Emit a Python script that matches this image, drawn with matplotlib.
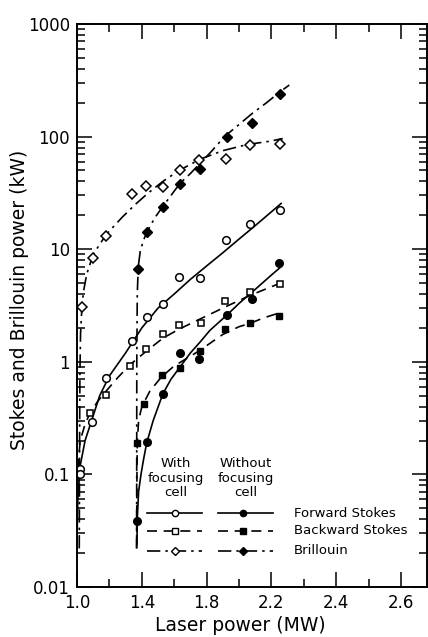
import matplotlib
matplotlib.use("Agg")
import matplotlib.pyplot as plt
from matplotlib.ticker import LogLocator, NullFormatter, FixedLocator

plt.rcParams['font.family'] = ['DejaVu Sans']

# ---- measured points (Laser power MW, power kW) ----
fs_cell_x = [1.019, 1.02, 1.09, 1.18, 1.34, 1.43, 1.53, 1.63, 1.76, 1.92, 2.07, 2.25]
fs_cell_y = [0.112, 0.10, 0.29, 0.72, 1.53, 2.5, 3.26, 5.66, 5.5, 12.1, 16.7, 22.3]

bs_cell_x = [1.08, 1.18, 1.327, 1.426, 1.53, 1.63, 1.765, 1.914, 2.07, 2.25]
bs_cell_y = [0.35, 0.51, 0.92, 1.3, 1.77, 2.12, 2.2, 3.47, 4.17, 4.9]

br_cell_x = [1.03, 1.099, 1.18, 1.34, 1.425, 1.53, 1.636, 1.755, 1.92, 2.07, 2.25]
br_cell_y = [3.07, 8.4, 13.1, 30.9, 36.4, 36.0, 50.5, 62.0, 63.0, 84.0, 86.0]

fs_nocell_x = [1.373, 1.43, 1.53, 1.636, 1.755, 1.925, 2.08, 2.247]
fs_nocell_y = [0.0386, 0.194, 0.52, 1.2, 1.06, 2.6, 3.6, 7.5]

bs_nocell_x = [1.373, 1.414, 1.525, 1.636, 1.76, 1.914, 2.07, 2.247]
bs_nocell_y = [0.19, 0.42, 0.76, 0.88, 1.25, 1.95, 2.2, 2.55]

br_nocell_x = [1.375, 1.435, 1.53, 1.636, 1.76, 1.925, 2.08, 2.25]
br_nocell_y = [6.7, 14.2, 23.7, 37.9, 51.5, 99.0, 132.0, 239.0]

# ---- fitted curves ----
fs_cell_cx = [1.0, 1.005, 1.02, 1.05, 1.09, 1.14, 1.2, 1.3, 1.4, 1.5, 1.6, 1.7, 1.8, 1.9, 2.0, 2.1, 2.2, 2.26]
fs_cell_cy = [0.025, 0.06, 0.12, 0.2, 0.3, 0.5, 0.75, 1.2, 2.0, 3.0, 4.0, 5.4, 7.1, 9.3, 12.3, 16.2, 21.5, 25.5]

bs_cell_cx = [1.003, 1.008, 1.02, 1.05, 1.08, 1.13, 1.18, 1.25, 1.33, 1.43, 1.53, 1.63, 1.76, 1.9, 2.07, 2.27]
bs_cell_cy = [0.08, 0.13, 0.2, 0.28, 0.35, 0.45, 0.55, 0.72, 0.95, 1.25, 1.62, 1.95, 2.4, 3.0, 3.9, 5.1]

br_cell_cx = [1.014, 1.016, 1.018, 1.022, 1.03, 1.04, 1.06, 1.1, 1.18, 1.28, 1.36, 1.44, 1.53, 1.63, 1.76, 1.9, 2.05, 2.19, 2.27]
br_cell_cy = [0.022, 0.2, 0.8, 1.8, 3.0, 4.2, 6.0, 9.0, 13.5, 19.3, 25.0, 31.6, 40.0, 50.0, 63.0, 75.0, 85.0, 91.0, 96.0]

fs_nocell_cx = [1.37, 1.372, 1.38, 1.395, 1.41, 1.43, 1.47, 1.53, 1.58, 1.636, 1.7, 1.76, 1.82, 1.925, 2.0, 2.1, 2.2, 2.255]
fs_nocell_cy = [0.024, 0.04, 0.07, 0.1, 0.134, 0.19, 0.3, 0.52, 0.7, 0.9, 1.2, 1.5, 1.9, 2.6, 3.3, 4.4, 5.9, 6.9]

bs_nocell_cx = [1.368, 1.37, 1.372, 1.38, 1.4, 1.45, 1.52, 1.6, 1.7, 1.76, 1.9, 2.0, 2.07, 2.15, 2.26]
bs_nocell_cy = [0.022, 0.1, 0.19, 0.3, 0.4, 0.55, 0.73, 0.92, 1.12, 1.27, 1.75, 2.05, 2.2, 2.45, 2.75]

br_nocell_cx = [1.368, 1.369, 1.372, 1.378, 1.39, 1.41, 1.435, 1.48, 1.53, 1.58, 1.636, 1.7, 1.76, 1.83, 1.91, 2.0, 2.08, 2.17, 2.25, 2.31]
br_nocell_cy = [0.022, 1.0, 4.0, 7.0, 9.5, 12.0, 14.5, 19.0, 24.0, 30.0, 38.5, 47.0, 58.0, 74.0, 100.0, 128.0, 160.0, 200.0, 248.0, 287.0]

xtick_pos = [1.0, 1.4, 1.8, 2.2, 2.6, 3.0]
xtick_labels = ["1.0", "1.4", "1.8", "2.2", "2.4", "2.6"]
ytick_pos = [0.01, 0.1, 1, 10, 100, 1000]
ytick_labels = ["0.01", "0.1", "1", "10", "100", "1000"]

# -------- Plot --------
fig = plt.figure(figsize=(4.28, 6.37), dpi=100)
ax = fig.add_axes([77/428, 50/637, 350/428, 563/637])
ax.set_yscale('log')
ax.set_xlim(1.0, 3.16)
ax.set_ylim(0.01, 1000)

lw = 1.2
solid = '-'
dashed = (0, (6, 4))
dashdot = (0, (8, 3, 1.5, 3))

ax.plot(fs_cell_cx, fs_cell_cy, color='k', lw=lw, linestyle=solid)
ax.plot(bs_cell_cx, bs_cell_cy, color='k', lw=lw, linestyle=dashed)
ax.plot(br_cell_cx, br_cell_cy, color='k', lw=lw, linestyle=dashdot)
ax.plot(fs_nocell_cx, fs_nocell_cy, color='k', lw=lw, linestyle=solid)
ax.plot(bs_nocell_cx, bs_nocell_cy, color='k', lw=lw, linestyle=dashed)
ax.plot(br_nocell_cx, br_nocell_cy, color='k', lw=lw, linestyle=dashdot)

ms = 5.5
ax.plot(fs_cell_x, fs_cell_y, 'o', ms=ms, mfc='white', mec='k', mew=1.1)
ax.plot(bs_cell_x, bs_cell_y, 's', ms=ms-0.5, mfc='white', mec='k', mew=1.1)
ax.plot(br_cell_x, br_cell_y, 'D', ms=ms-0.3, mfc='white', mec='k', mew=1.1)
ax.plot(fs_nocell_x, fs_nocell_y, 'o', ms=ms, mfc='k', mec='k')
ax.plot(bs_nocell_x, bs_nocell_y, 's', ms=ms-0.5, mfc='k', mec='k')
ax.plot(br_nocell_x, br_nocell_y, 'D', ms=ms-0.3, mfc='k', mec='k')

# axes styling
for s in ax.spines.values():
    s.set_linewidth(1.4)
ax.xaxis.set_major_locator(FixedLocator(xtick_pos))
ax.set_xticklabels(xtick_labels)
ax.xaxis.set_minor_locator(FixedLocator([1.2, 1.6, 2.0, 2.4, 2.8]))
ax.set_yticks(ytick_pos)
ax.set_yticklabels(ytick_labels)
ax.yaxis.set_minor_locator(LogLocator(base=10, subs=range(2, 10), numticks=20))
ax.yaxis.set_minor_formatter(NullFormatter())
ax.tick_params(which='both', direction='in', top=True, right=True, width=1.1)
ax.tick_params(which='major', length=11, labelsize=12, pad=5)
ax.tick_params(which='minor', length=6)

ax.set_xlabel("Laser power (MW)", fontsize=13.5, va='center')
ax.xaxis.set_label_coords(0.466, -0.068)
ax.set_ylabel("Stokes and Brillouin power (kW)", fontsize=13.5, va='center')
ax.yaxis.set_label_coords(-0.165, 0.51)

# -------- legend drawn by hand --------
tr = ax.transAxes
rows_y = [0.131, 0.100, 0.064]
styles = [solid, dashed, dashdot]
marks = ['o', 's', 'D']
names = ["Forward Stokes", "Backward Stokes", "Brillouin"]
for yy, ls, mk, name in zip(rows_y, styles, marks, names):
    ax.plot([0.20, 0.357], [yy, yy], transform=tr, color='k', lw=lw, linestyle=ls)
    ax.plot([0.28], [yy], mk, transform=tr, ms=4.5, mfc='white', mec='k', mew=1.0)
    ax.plot([0.403, 0.56], [yy, yy], transform=tr, color='k', lw=lw, linestyle=ls)
    ax.plot([0.474], [yy], mk, transform=tr, ms=4.5, mfc='k', mec='k')
    ax.text(0.62, yy, name, transform=tr, fontsize=9.5, va='center', ha='left')

ax.text(0.283, 0.156, "With\nfocusing\ncell", transform=tr, fontsize=9.5,
        ha='center', va='bottom', linespacing=1.15)
ax.text(0.483, 0.156, "Without\nfocusing\ncell", transform=tr, fontsize=9.5,
        ha='center', va='bottom', linespacing=1.15)

fig.savefig("out.png", dpi=100)
